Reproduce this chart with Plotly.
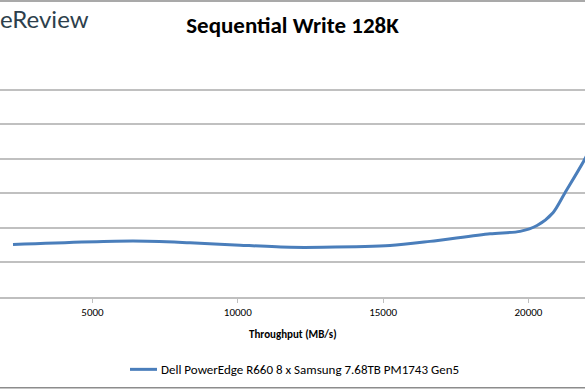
import plotly.graph_objects as go

series_name = "Dell PowerEdge R660 8 x Samsung 7.68TB PM1743 Gen5"
throughput = [2264, 6394, 8355, 10076, 11797, 12932, 15238, 16614, 18679, 19711, 20297, 20846, 21260, 21914, 22300]
latency = [1.52, 1.62, 1.57, 1.50, 1.44, 1.44, 1.49, 1.61, 1.83, 1.90, 2.07, 2.44, 3.02, 3.95, 4.6]
x_ticks = [5000, 10000, 15000, 20000]
x_tick_labels = ["5000", "10000", "15000", "20000"]

FONT = "Carlito, Lato, 'Open Sans', sans-serif"
W, H = 585, 390
top_px, bot_px = 55.0, 297.5
ph = bot_px - top_px
line_color = "#4a7ebb"

def py(p):
    return (bot_px - p) / ph

def px(p):
    return p / W

fig = go.Figure()
fig.add_trace(go.Scatter(
    x=throughput, y=latency, mode="lines", name=series_name, showlegend=False,
    line=dict(color=line_color, width=3, shape="spline", smoothing=0.8),
))

fig.update_layout(
    width=W, height=H,
    margin=dict(l=0, r=0, t=top_px, b=H - bot_px, autoexpand=False),
    paper_bgcolor="white", plot_bgcolor="white",
    showlegend=False,
    title=dict(text="<b>Sequential Write 128K</b>", x=0.5, xanchor="center",
               y=1 - 25 / H, yanchor="middle",
               font=dict(family=FONT, size=23, color="#000")),
    xaxis=dict(range=[1817, 21947], tickvals=x_ticks, ticktext=x_tick_labels,
               ticks="outside", ticklen=4, automargin=False,
               tickcolor="#bfbfbf", showgrid=False, showline=True, linecolor="#bfbfbf",
               linewidth=1.5, zeroline=False,
               tickfont=dict(family=FONT, size=11, color="#000")),
    yaxis=dict(range=[0, 7.005], tickvals=[1, 2, 3, 4, 5, 6, 7], showticklabels=False,
               showgrid=True, automargin=False,
               gridcolor="#c0c0c0", gridwidth=1.5, zeroline=False, showline=False),
    annotations=[
        dict(text="<b>Throughput (MB/s)</b>", xref="paper", yref="paper", x=0.5, y=py(335),
             xanchor="center", yanchor="middle", showarrow=False,
             font=dict(family=FONT, size=11, color="#000")),
        dict(text="eReview", xref="paper", yref="paper", x=-0.004, y=py(18),
             xanchor="left", yanchor="middle", showarrow=False,
             font=dict(family="Lato, sans-serif", size=24, color="#2d3f4c")),
        dict(text=series_name, xref="paper", yref="paper", x=px(159), y=py(370),
             xanchor="left", yanchor="middle", showarrow=False,
             font=dict(family=FONT, size=13, color="#000")),
    ],
    shapes=[
        dict(type="line", xref="paper", yref="paper", x0=0, x1=1, y0=py(0.8), y1=py(0.8),
             line=dict(color="#8c8c8c", width=1.5)),
        dict(type="line", xref="paper", yref="paper", x0=0, x1=1, y0=py(388.5), y1=py(388.5),
             line=dict(color="#8c8c8c", width=1.5)),
        dict(type="line", xref="paper", yref="paper", x0=px(130), x1=px(157),
             y0=py(370), y1=py(370), line=dict(color=line_color, width=3)),
    ],
)

fig.write_html("out.html", config={"displayModeBar": False},
               post_script="document.body.style.margin='0';document.body.style.overflow='hidden';")
